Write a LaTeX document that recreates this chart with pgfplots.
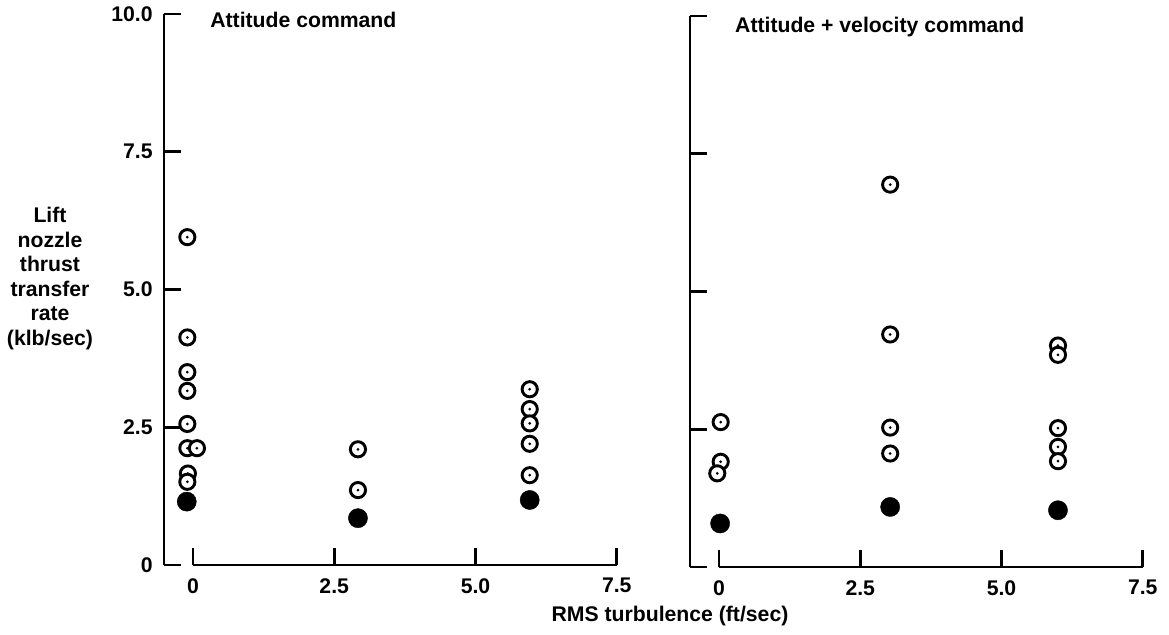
\documentclass[border=0pt]{standalone}
\usepackage{fontspec}
\setmainfont{Liberation Sans}
\usepackage{pgfplots}
\pgfplotsset{compat=1.18}

% open ring with a small centre dot
\pgfdeclareplotmark{ringdot}{%
  \pgfpathcircle{\pgfpointorigin}{\pgfplotmarksize}%
  \pgfsetfillcolor{white}\pgfusepathqfillstroke
  \pgfpathcircle{\pgfpointorigin}{0.75pt}%
  \pgfsetfillcolor{black}\pgfusepathqfill}

\pgfplotsset{
  panel/.style={
    x=28.25pt, y=27.55pt,
    xmin=-0.513, xmax=7.5, ymin=0, ymax=10,
    clip=false,
    axis x line*=bottom, axis y line*=left,
    axis line style={draw=none},
    tick align=inside,
    major tick length=8.5pt,
    every tick/.style={black, line width=1.4pt},
    xtick={0,2.5,5,7.5}, xticklabels={0,2.5,5.0,7.5},
    ytick={0,2.5,5,7.5,10},
    xticklabel style={anchor=north, inner sep=0pt, yshift=-6.5pt},
    yticklabel style={anchor=east, inner sep=0pt, xshift=-5.5pt},
  },
  open/.style={only marks, mark=ringdot, mark size=3.8pt,
    mark options={line width=1.45pt, draw=black}},
  solid/.style={only marks, mark=*, mark size=4.8pt,
    mark options={fill=black, draw=black, line width=0.2pt}},
}

\begin{document}
\begin{tikzpicture}[font=\bfseries\fontsize{10.6}{12.25}\selectfont]
\useasboundingbox (-82pt,-34.5pt) rectangle (502.5pt,282.5pt);

% Attitude command
\begin{axis}[panel, at={(0pt,0pt)}, anchor=south west,
  yticklabels={0,2.5,5.0,7.5,10.0}]
  \draw[line width=1.4pt] (rel axis cs:0,0) -- (rel axis cs:0,1);
  \draw[line width=1.4pt] (axis cs:0,0) -- (axis cs:7.5,0);
  \addplot[open] coordinates {
    (-0.10,5.95) (-0.10,4.13) (-0.10,3.50) (-0.10,3.16) (-0.10,2.56)
    (-0.10,2.12) (0.07,2.12) (-0.09,1.66) (-0.10,1.51)
    (2.92,2.10) (2.92,1.36)
    (5.96,3.19) (5.96,2.83) (5.96,2.57) (5.96,2.20) (5.96,1.63)
  };
  \addplot[solid] coordinates {(-0.11,1.15) (2.92,0.85) (5.96,1.18)};
  \node[anchor=base west, inner sep=0pt] at (axis cs:0.30,9.75) {Attitude command};
\end{axis}

% Attitude + velocity command
\begin{axis}[panel, at={(263pt,-1pt)}, anchor=south west,
  yticklabels={}]
  \draw[line width=1.4pt] (rel axis cs:0,0) -- (rel axis cs:0,1);
  \draw[line width=1.4pt] (axis cs:0,0) -- (axis cs:7.5,0);
  \addplot[open] coordinates {
    (0.03,2.63) (0.03,1.91) (-0.03,1.70)
    (3.03,6.94) (3.03,4.22) (3.03,2.53) (3.03,2.06)
    (6.00,4.02) (6.00,3.85) (6.00,2.52) (6.00,2.18) (6.00,1.92)
  };
  \addplot[solid] coordinates {(0.02,0.79) (3.03,1.09) (6.00,1.03)};
  \node[anchor=base west, inner sep=0pt] at (axis cs:0.28,9.70) {Attitude + velocity command};
\end{axis}

\node[align=center] at (-57pt,143.25pt)
  {Lift\\nozzle\\thrust\\transfer\\rate\\(klb/sec)};
\node[anchor=base, inner sep=0pt] at (253pt,-28pt) {RMS turbulence (ft/sec)};
\end{tikzpicture}
\end{document}
